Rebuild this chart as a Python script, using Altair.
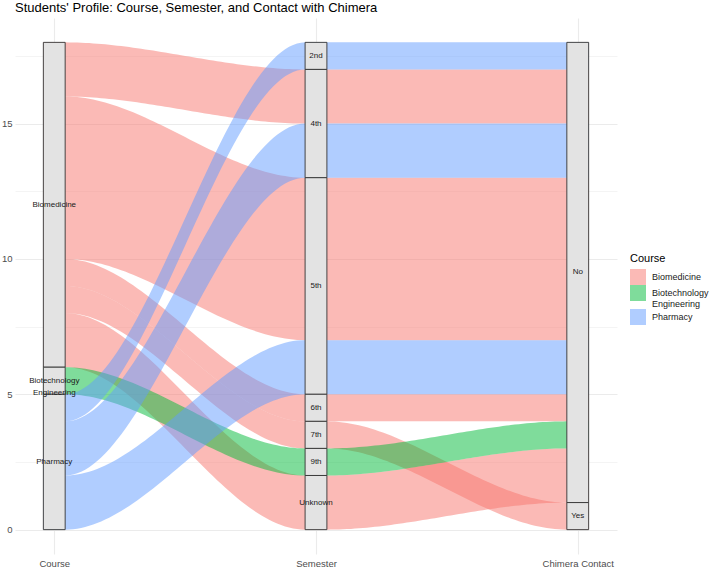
import altair as alt
import numpy as np
import pandas as pd

# Axes of the alluvial diagram and the strata on each of them (top to bottom)
axis_names = ["Course", "Semester", "Chimera Contact"]
course_levels = ["Biomedicine", "Biotechnology Engineering", "Pharmacy"]
semester_levels = ["2nd", "4th", "5th", "6th", "7th", "9th", "Unknown"]
contact_levels = ["No", "Yes"]

# One alluvium per course / semester / contact combination, with its student count
flow_course = ["Biomedicine"] * 5 + ["Biotechnology Engineering"] + ["Pharmacy"] * 3
flow_semester = ["4th", "5th", "6th", "7th", "Unknown", "9th", "2nd", "4th", "5th"]
flow_contact = ["No", "No", "No", "Yes", "No", "No", "No", "No", "No"]
flow_count = [2, 6, 1, 1, 2, 1, 1, 2, 2]

palette = ["#F8766D", "#00BA38", "#619CFF"]
FONT = "Liberation Sans"
STRATUM_W = 1 / 12
X_DOMAIN = [0.85, 3.15]
Y_DOMAIN = [-0.9, 18.9]

levels = [course_levels, semester_levels, contact_levels]
flows = list(zip(flow_course, flow_semester, flow_contact, flow_count))
total = sum(flow_count)

# Lode order inside a stratum: own axis first, then the neighbouring axes
sort_axes = [(0, 1, 2), (1, 0, 2), (2, 1, 0)]
lodes = {}
strata_rows = []
for a in range(3):
    order = sorted(
        range(len(flows)),
        key=lambda i: tuple(levels[k].index(flows[i][k]) for k in sort_axes[a]),
    )
    top = total
    for i in order:
        n = flows[i][3]
        lodes[(i, a)] = (top - n, top)
        top -= n
    top = total
    for lev in levels[a]:
        n = sum(f[3] for f in flows if f[a] == lev)
        if n == 0:
            continue
        strata_rows.append(
            dict(
                x=a + 1 - STRATUM_W / 2,
                x2=a + 1 + STRATUM_W / 2,
                y=top - n,
                y2=top,
                xm=a + 1,
                ym=top - n / 2,
                label=lev.replace(" ", "\n"),
            )
        )
        top -= n
strata = pd.DataFrame(strata_rows)

# Ribbon outlines: flat through each stratum, sigmoid between neighbouring strata
ribbon_rows = []
for i, f in enumerate(flows):
    for a in range(3):
        lo, hi = lodes[(i, a)]
        for x in (a + 1 - STRATUM_W / 2, a + 1 + STRATUM_W / 2):
            ribbon_rows.append(dict(id=i, course=f[0], x=x, lo=lo, hi=hi))
        if a < 2:
            lo2, hi2 = lodes[(i, a + 1)]
            x0, x1 = a + 1 + STRATUM_W / 2, a + 2 - STRATUM_W / 2
            for t in np.linspace(0, 1, 61)[1:-1]:
                s = t * t * (3 - 2 * t)
                ribbon_rows.append(
                    dict(
                        id=i,
                        course=f[0],
                        x=x0 + (x1 - x0) * t,
                        lo=lo + (lo2 - lo) * s,
                        hi=hi + (hi2 - hi) * s,
                    )
                )
ribbons = pd.DataFrame(ribbon_rows)

x_scale = alt.Scale(domain=X_DOMAIN, nice=False, zero=False)
y_scale = alt.Scale(domain=Y_DOMAIN, nice=False, zero=False)

x_label_expr = "[" + ",".join(f"'{n}'" for n in axis_names) + "][datum.value - 1]"

x_axis = alt.Axis(
    values=[1, 2, 3],
    labelExpr=x_label_expr,
    title=None,
    ticks=False,
    domain=False,
    grid=True,
    gridColor="#EBEBEB",
    gridWidth=1.1,
    labelFontSize=9.5,
    labelColor="#4D4D4D",
    labelFont=FONT,
    labelPadding=4,
)
y_axis = alt.Axis(
    values=[0, 2.5, 5, 7.5, 10, 12.5, 15, 17.5],
    labelExpr="datum.value % 5 == 0 ? datum.label : ''",
    title=None,
    ticks=False,
    domain=False,
    grid=True,
    gridColor="#EBEBEB",
    gridWidth={"condition": {"test": "datum.value % 5 == 0", "value": 1.1}, "value": 0.55},
    labelFontSize=9.5,
    labelColor="#4D4D4D",
    labelFont=FONT,
    labelPadding=3,
)

ribbon_layer = alt.Chart(ribbons).mark_area(opacity=0.5, interpolate="linear").encode(
    x=alt.X("x:Q", scale=x_scale, axis=x_axis),
    y=alt.Y("lo:Q", scale=y_scale, axis=y_axis, stack=None),
    y2="hi:Q",
    detail="id:N",
    color=alt.Color(
        "course:N",
        scale=alt.Scale(domain=course_levels, range=palette),
        legend=alt.Legend(
            title="Course",
            orient="none",
            legendX=615,
            legendY=235,
            symbolType="square",
            symbolSize=256,
            symbolOpacity=0.5,
            symbolStrokeWidth=0,
            rowPadding=0,
            labelExpr="split(datum.label, ' ')",
            labelFontSize=9,
            labelFont=FONT,
            labelColor="#1A1A1A",
            labelOffset=6,
            titleFontSize=11,
            titleFont=FONT,
            titleFontWeight="normal",
            titleColor="#000000",
            titlePadding=5,
            padding=0,
        ),
    ),
)

strata_layer = alt.Chart(strata).mark_rect(
    fill="#E3E3E3", stroke="#333333", strokeWidth=0.9
).encode(
    x=alt.X("x:Q", scale=x_scale, axis=x_axis),
    x2="x2:Q",
    y=alt.Y("y:Q", scale=y_scale, axis=y_axis),
    y2="y2:Q",
)

label_layer = alt.Chart(strata).mark_text(
    fontSize=8, font=FONT, color="#1A1A1A", lineBreak="\n", lineHeight=12.5
).encode(
    x=alt.X("xm:Q", scale=x_scale, axis=x_axis),
    y=alt.Y("ym:Q", scale=y_scale, axis=y_axis),
    text="label:N",
)

chart = (
    alt.layer(ribbon_layer, strata_layer, label_layer)
    .properties(
        width=602,
        height=536,
        autosize=alt.AutoSizeParams(type="none"),
        padding={"left": 15, "top": 18, "right": 92, "bottom": 14},
        background="white",
        title=alt.TitleParams(
            text="Students' Profile: Course, Semester, and Contact with Chimera",
            anchor="start",
            frame="group",
            fontSize=13,
            fontWeight="normal",
            font=FONT,
            color="#000000",
            baseline="alphabetic",
            offset=5,
            dy=12,
        ),
    )
    .configure_view(stroke="transparent", strokeWidth=0)
)

chart.save("out.html", embed_options={"renderer": "svg", "actions": False})
